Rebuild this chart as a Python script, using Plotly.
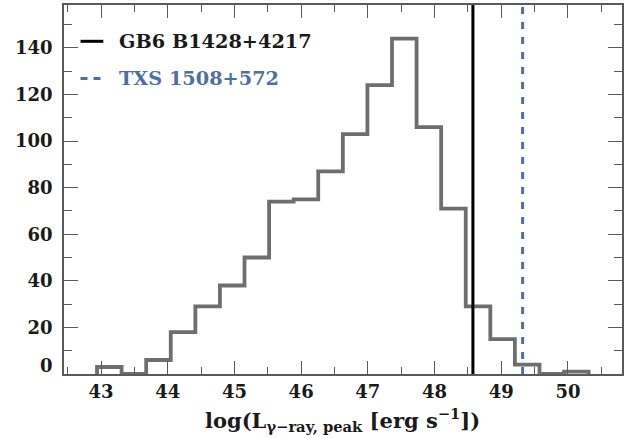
import numpy as np
import plotly.graph_objects as go

# ---- data ----
hist_start = 42.94
hist_end = 50.31
n_bins = 20
counts = [3, 0, 6, 18, 29, 38, 50, 74, 75, 87, 103, 124, 144, 106, 71, 29, 15, 4, 0, 1]
gb6_x = 48.575   # GB6 B1428+4217
txs_x = 49.32    # TXS 1508+572
legend_names = ["GB6 B1428+4217", "TXS 1508+572"]
x_ticks = [43, 44, 45, 46, 47, 48, 49, 50]
y_ticks = [0, 20, 40, 60, 80, 100, 120, 140]

edges = list(np.linspace(hist_start, hist_end, n_bins + 1))
xs = [edges[0]] + edges
ys = [0] + counts + [0]

Y_MAX = 158.4
FONT = "DejaVu Serif"
HIST_C = "#6e6e6e"
BLUE = "#4f6fa3"
AX_C = "#5a5a5a"
TXT_C = "#1a1a1a"

fig = go.Figure()
fig.add_trace(go.Scatter(x=xs, y=ys, mode="lines", line=dict(color=HIST_C, width=3.8, shape="hv"),
                         showlegend=False, hoverinfo="skip"))
fig.add_trace(go.Scatter(x=[gb6_x, gb6_x], y=[0, Y_MAX], mode="lines",
                         line=dict(color="black", width=3), showlegend=False))
fig.add_trace(go.Scatter(x=[txs_x, txs_x], y=[0, Y_MAX], mode="lines",
                         line=dict(color=BLUE, width=3, dash="7px,8px"), showlegend=False))

# plot area in px
L, R, T, B = 64, 621.7, 3, 374
W, H = R - L, B - T
def px(x):
    return (x - L) / W
def py(y):
    return (B - y) / H

# manual legend
fig.add_shape(type="line", xref="paper", yref="paper", x0=px(80.5), x1=px(103.3), y0=py(39.5), y1=py(39.5),
              line=dict(color="black", width=3))
fig.add_shape(type="line", xref="paper", yref="paper", x0=px(80.5), x1=px(102), y0=py(77), y1=py(77),
              line=dict(color=BLUE, width=3, dash="7px,6px"))
fig.add_annotation(x=px(117), y=py(39.5), xref="paper", yref="paper", xanchor="left", yanchor="middle",
                   text="<b>" + legend_names[0] + "</b>", showarrow=False,
                   font=dict(family=FONT, size=19.3, color=TXT_C))
fig.add_annotation(x=px(117), y=py(77), xref="paper", yref="paper", xanchor="left", yanchor="middle",
                   text="<b>" + legend_names[1] + "</b>", showarrow=False,
                   font=dict(family=FONT, size=19.3, color=BLUE))

# x title
fig.add_annotation(x=px(342), y=0, xref="paper", yref="paper", yshift=-46, xanchor="center", yanchor="middle",
                   text="<b>log(L<sub>γ−ray, peak</sub> [erg s<sup>−1</sup>])</b>", showarrow=False,
                   font=dict(family=FONT, size=21, color=TXT_C))
# zero label (raised as in the reference)
fig.add_annotation(x=0, y=0, xref="paper", yref="y", xshift=-9, yshift=9, xanchor="right", yanchor="middle",
                   text="<b>0</b>", showarrow=False, font=dict(family=FONT, size=18, color=TXT_C))

axis_common = dict(showline=True, linecolor=AX_C, linewidth=1.5, mirror="ticks", ticks="inside",
                   tickcolor=AX_C, tickwidth=1.3, showgrid=False, zeroline=False,
                   tickfont=dict(family=FONT, size=18, color=TXT_C))

fig.update_xaxes(range=[42.445, 50.81], tickvals=x_ticks, ticktext=["<b>%d</b>" % v for v in x_ticks],
                 ticklen=13, minor=dict(dtick=0.5, tick0=0, ticks="inside", ticklen=7, tickcolor=AX_C, tickwidth=1.3),
                 ticklabelstandoff=1, **axis_common)
fig.update_yaxes(range=[0, Y_MAX], tickvals=y_ticks,
                 ticktext=[""] + ["<b>%d</b>" % v for v in y_ticks[1:]],
                 ticklen=14, minor=dict(dtick=10, tick0=0, ticks="inside", ticklen=8, tickcolor=AX_C, tickwidth=1.3),
                 ticklabelstandoff=6, **axis_common)

fig.update_layout(width=636, height=438, margin=dict(l=L, r=636 - R, t=T, b=438 - B),
                  plot_bgcolor="white", paper_bgcolor="white", showlegend=False)
fig.write_html("out.html")
